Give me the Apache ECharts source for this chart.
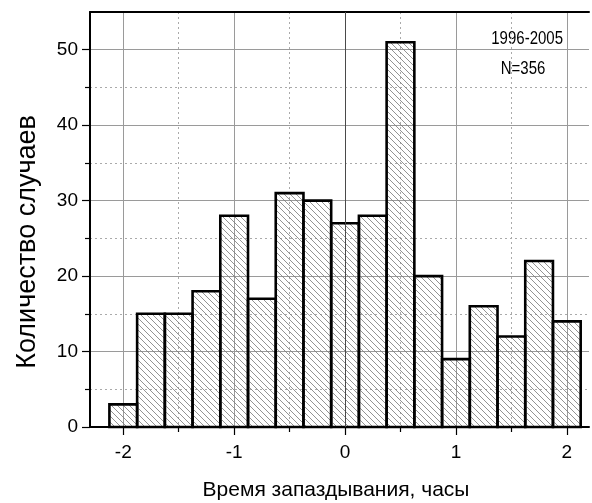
<!DOCTYPE html>
<html>
<head>
<meta charset="utf-8">
<script src="https://cdn.jsdelivr.net/npm/echarts@6/dist/echarts.min.js"></script>
<style>
  html, body { margin: 0; padding: 0; background: #fff; }
  #chart { width: 592px; height: 503px; }
</style>
</head>
<body>
<div id="chart"></div>
<script>
// Histogram of delay times (hours), bin width 0.25 h
const binCenters = [-2, -1.75, -1.5, -1.25, -1, -0.75, -0.5, -0.25, 0, 0.25, 0.5, 0.75, 1, 1.25, 1.5, 1.75, 2];
const counts = [3, 15, 15, 18, 28, 17, 31, 30, 27, 28, 51, 20, 9, 16, 12, 22, 14];
const binWidth = 0.25;

const xMajorTicks = [-2, -1, 0, 1, 2];
const xMinorTicks = [-1.5, -0.5, 0.5, 1.5];
const yMajorTicks = [0, 10, 20, 30, 40, 50];
const yMinorTicks = [5, 15, 25, 35, 45];

const xTitle = 'Время запаздывания, часы';
const yTitle = 'Количество случаев';
const periodText = '1996-2005';
const sampleText = 'N=356';

// diagonal hatch tile
function makeHatch() {
  const s = 6;
  const c = document.createElement('canvas');
  c.width = s; c.height = s;
  const g = c.getContext('2d');
  g.strokeStyle = '#777';
  g.lineWidth = 0.8;
  g.beginPath();
  g.moveTo(-1, -1); g.lineTo(s + 1, s + 1);
  g.moveTo(-1, s - 1); g.lineTo(1, s + 1);
  g.moveTo(s - 1, -1); g.lineTo(s + 1, 1);
  g.stroke();
  return c;
}
const hatch = makeHatch();

const FONT = 'Liberation Sans, Arial, sans-serif';
const X_MIN = -2.3, X_MAX = 2.2, Y_MIN = 0, Y_MAX = 55;

const chart = echarts.init(document.getElementById('chart'), null, { renderer: 'canvas' });

const option = {
  animation: false,
  backgroundColor: '#fff',
  grid: { left: 90, top: 12, right: 3, bottom: 76, containLabel: false },
  xAxis: [
    {
      type: 'value', min: X_MIN, max: X_MAX, position: 'bottom',
      axisLine: { show: true, onZero: false, lineStyle: { color: '#000', width: 2 } },
      axisTick: { show: true, inside: false, length: 8, customValues: xMajorTicks, lineStyle: { color: '#000', width: 1.2 } },
      axisLabel: { show: true, customValues: xMajorTicks, margin: 16, color: '#000', fontSize: 19, fontFamily: FONT },
      splitLine: { show: true, lineStyle: { color: '#9a9a9a', width: 1 } }
    },
    {
      type: 'value', min: X_MIN, max: X_MAX, position: 'bottom',
      axisLine: { show: false, onZero: false },
      axisTick: { show: true, inside: false, length: 5, customValues: xMinorTicks, lineStyle: { color: '#000', width: 1.2 } },
      axisLabel: { show: false },
      splitLine: { show: true, lineStyle: { color: '#aaa', width: 1, type: [2, 3] } }
    },
    {
      type: 'value', min: X_MIN, max: X_MAX, position: 'top',
      axisLine: { show: true, onZero: false, lineStyle: { color: '#000', width: 2 } },
      axisTick: { show: false }, axisLabel: { show: false }, splitLine: { show: false }
    }
  ],
  yAxis: [
    {
      type: 'value', min: Y_MIN, max: Y_MAX, position: 'left',
      axisLine: { show: true, onZero: false, lineStyle: { color: '#000', width: 2 } },
      axisTick: { show: true, inside: false, length: 8, customValues: yMajorTicks, lineStyle: { color: '#000', width: 1.2 } },
      axisLabel: { show: true, customValues: yMajorTicks, margin: 12, color: '#000', fontSize: 19, fontFamily: FONT },
      splitLine: { show: true, lineStyle: { color: '#9a9a9a', width: 1 } }
    },
    {
      type: 'value', min: Y_MIN, max: Y_MAX, position: 'left',
      axisLine: { show: false, onZero: false },
      axisTick: { show: true, inside: false, length: 5, customValues: yMinorTicks, lineStyle: { color: '#000', width: 1.2 } },
      axisLabel: { show: false },
      splitLine: { show: true, lineStyle: { color: '#aaa', width: 1, type: [2, 3] } }
    }
  ],
  series: [
    {
      type: 'custom',
      xAxisIndex: 0, yAxisIndex: 0,
      data: binCenters.map((c, i) => [c, counts[i]]),
      encode: { x: 0, y: 1 },
      renderItem: function (params, api) {
        const c = api.value(0), v = api.value(1);
        const p0 = api.coord([c - binWidth / 2, v]);
        const p1 = api.coord([c + binWidth / 2, 0]);
        return {
          type: 'rect',
          shape: { x: p0[0], y: p0[1], width: p1[0] - p0[0], height: p1[1] - p0[1] },
          style: { fill: { image: hatch, repeat: 'repeat' }, stroke: '#000', lineWidth: 2.6 }
        };
      },
      markLine: {
        silent: true, symbol: 'none', label: { show: false },
        lineStyle: { color: '#4a4a4a', width: 1, type: 'solid' },
        data: [{ xAxis: 0 }]
      },
      z: 3
    }
  ],
  graphic: [
    {
      type: 'text', x: 563, y: 39, scaleY: 1.22,
      style: { text: periodText, font: '15px ' + FONT, fill: '#000', align: 'right', verticalAlign: 'middle' }
    },
    {
      type: 'text', x: 523, y: 69, scaleY: 1.22,
      style: { text: sampleText, font: '15px ' + FONT, fill: '#000', align: 'center', verticalAlign: 'middle' }
    },
    {
      type: 'text', x: 336, y: 490,
      style: { text: xTitle, font: '21px ' + FONT, fill: '#000', align: 'center', verticalAlign: 'middle' }
    },
    {
      type: 'text', x: 28, y: 242, rotation: Math.PI / 2,
      style: { text: yTitle, font: '27px ' + FONT, fill: '#000', align: 'center', verticalAlign: 'middle' }
    }
  ]
};

chart.setOption(option);
</script>
</body>
</html>
